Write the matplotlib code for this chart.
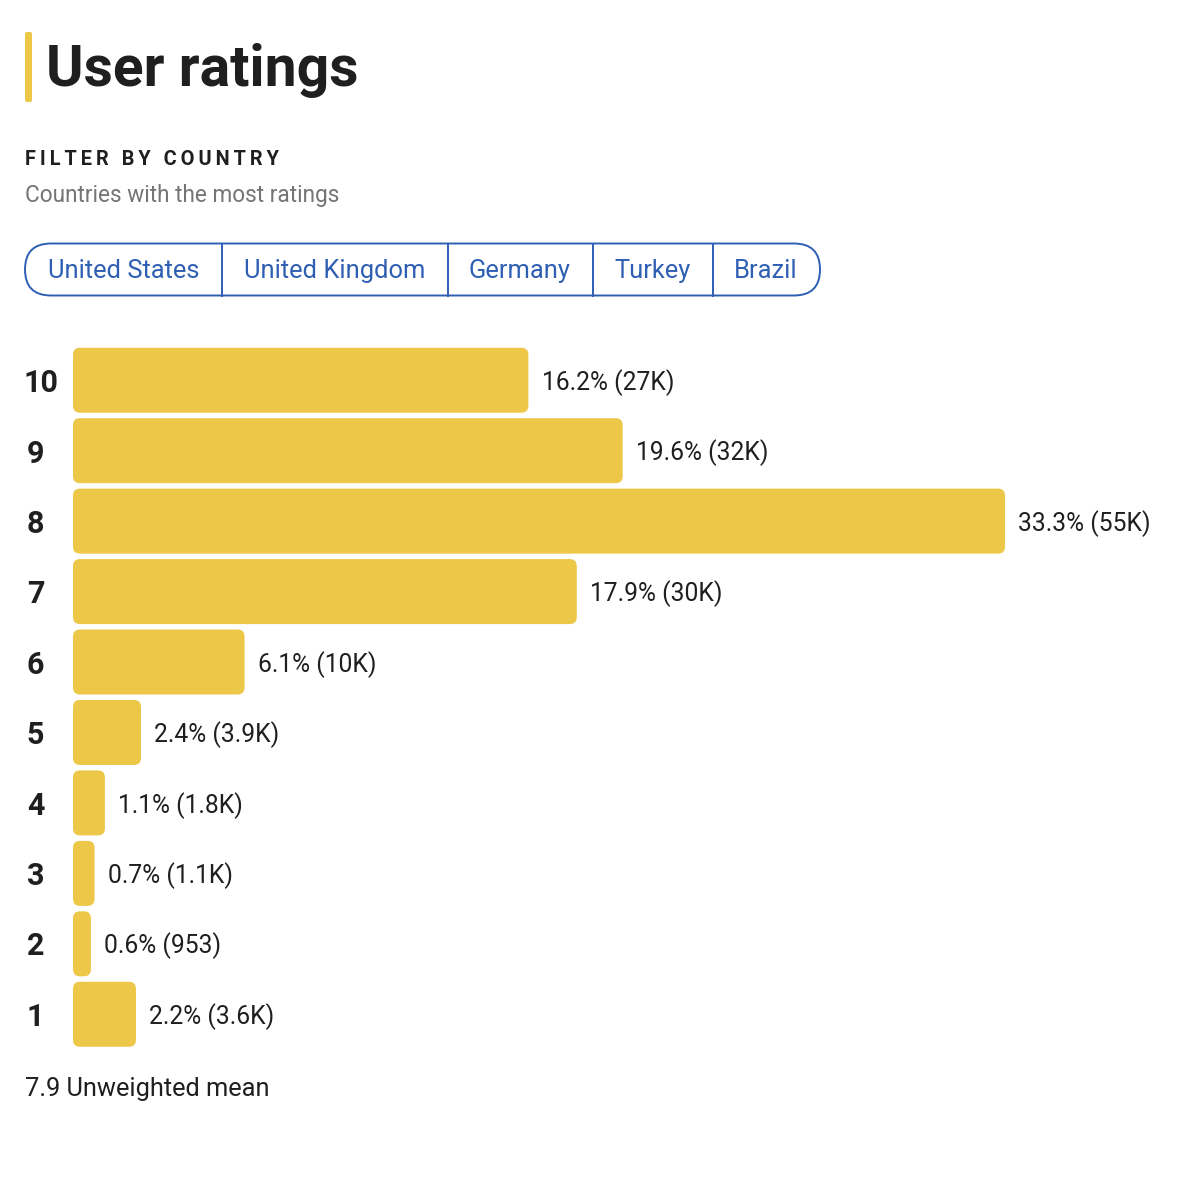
import matplotlib
matplotlib.use("Agg")
import matplotlib.pyplot as plt
from matplotlib.patches import FancyBboxPatch

plt.rcParams["font.family"] = ["Roboto", "DejaVu Sans"]

# data
ratings = ["10", "9", "8", "7", "6", "5", "4", "3", "2", "1"]
percents = ["16.2", "19.6", "33.3", "17.9", "6.1", "2.4", "1.1", "0.7", "0.6", "2.2"]
# bar lengths, a bit finer than the labels
bar_values = [16.27, 19.64, 33.3, 18.0, 6.13, 2.43, 1.14, 0.77, 0.64, 2.25]
counts = ["27K", "32K", "55K", "30K", "10K", "3.9K", "1.8K", "1.1K", "953", "3.6K"]
countries = ["United States", "United Kingdom", "Germany", "Turkey", "Brazil"]
country_dividers = [222, 447.5, 593, 713]
country_centers = [123.5, 334.5, 520, 652.5, 766]

YELLOW = "#edc748"
BLUE = "#2f5fb3"
DARK = "#1f1f1f"

fig = plt.figure(figsize=(12, 11.87), dpi=100)

# pixel coordinates for the page furniture
bg = fig.add_axes([0, 0, 1, 1])
bg.set_xlim(0, 1200)
bg.set_ylim(1187, 0)
bg.axis("off")

bg.add_patch(FancyBboxPatch((25, 32), 7, 70, boxstyle="round,pad=0,rounding_size=2",
                            fc=YELLOW, ec="none"))
bg.text(46, 71, "User ratings", fontsize=41, fontweight="bold", color=DARK, va="center")
# hair spaces stand in for the letter spacing
bg.text(25, 159.5, "\u200a\u200a".join("FILTER BY COUNTRY"), fontsize=14.3, fontweight="bold",
        color=DARK, va="center")
bg.text(25, 195.5, "Countries with the most ratings", fontsize=16.3, color="#757575", va="center")

# country pills
bg.add_patch(FancyBboxPatch((25, 243.5), 795, 52, boxstyle="round,pad=0,rounding_size=26",
                            fc="white", ec=BLUE, lw=1.4))
for x in country_dividers:
    bg.plot([x, x], [243.5, 295.5], color=BLUE, lw=1.4)
for name, x in zip(countries, country_centers):
    bg.text(x, 278, name, fontsize=18.4, color=BLUE, ha="center", va="baseline")

bg.text(25, 1089, "7.9 Unweighted mean", fontsize=18.3, color=DARK, va="center")

# bars, the axes spans 73..1005 px for 0..33.3
ax = fig.add_axes([73 / 1200, 1 - 1049.5 / 1187, 932 / 1200, (1049.5 - 345) / 1187])
ax.set_xlim(0, 33.3)
ax.set_ylim(len(ratings) - 0.5, -0.5)
ax.axis("off")

px_x = 33.3 / 932
px_y = 1 / 70.45
for i, (r, p, v, c) in enumerate(zip(ratings, percents, bar_values, counts)):
    ax.add_patch(FancyBboxPatch((0, i - 32.5 * px_y), v, 65 * px_y,
                                boxstyle=f"round,pad=0,rounding_size={7 * px_x}",
                                mutation_aspect=px_y / px_x,
                                fc=YELLOW, ec="none"))
    ax.text(v + 13.2 * px_x, i + 2.2 * px_y, f"{p}% ({c})", fontsize=17.7, color=DARK,
            va="center", clip_on=False)
    bg.text(35.5 if len(r) == 1 else 41.5, 383.2 + i * 70.4, r, fontsize=22, fontweight="bold",
            color=DARK, ha="center", va="center")

fig.savefig("out.png", dpi=100)
